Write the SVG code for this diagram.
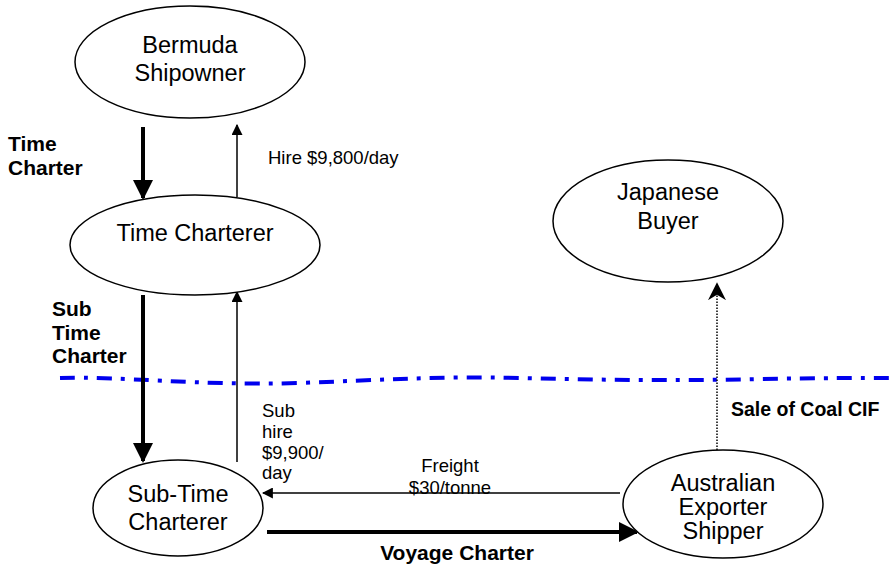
<svg xmlns="http://www.w3.org/2000/svg" width="891" height="565" viewBox="0 0 891 565">
<style>
.node{fill:#fff;stroke:#000;stroke-width:1.5}
.nt{font-family:"Liberation Sans",Arial,sans-serif;font-size:23.5px;fill:#000;text-anchor:middle}
.lb{font-family:"Liberation Sans",Arial,sans-serif;font-size:21px;font-weight:bold;fill:#000}
.ls{font-family:"Liberation Sans",Arial,sans-serif;font-size:18.5px;fill:#000}
.thick{stroke:#000;stroke-width:4;fill:none}
.thin{stroke:#000;stroke-width:1.5;fill:none}
</style>
<defs>
<marker id="ah" viewBox="0 0 10 10" refX="9" refY="5" markerWidth="11" markerHeight="11" markerUnits="userSpaceOnUse" orient="auto"><path d="M0,0 L10,5 L0,10 Z" fill="#000"/></marker>
<marker id="ahk" viewBox="0 0 10 10" refX="9" refY="5" markerWidth="5" markerHeight="5" orient="auto"><path d="M0,0 L10,5 L0,10 Z" fill="#000"/></marker>
<marker id="ahv" viewBox="0 0 10 10" refX="9" refY="5" markerWidth="18" markerHeight="18" markerUnits="userSpaceOnUse" orient="auto"><path d="M0,0 L10,5 L0,10 L3,5 Z" fill="#000"/></marker>
</defs>
<rect width="891" height="565" fill="#fff"/>
<path d="M60,378 C120,376 200,386 300,383 C380,380 440,376 520,378 C600,380 680,381 760,379 C820,378 860,378 891,378" stroke="#0000ee" stroke-width="4" fill="none" stroke-dasharray="15,9,4,9"/>
<g id="connectors">
<line class="thick" x1="143" y1="127" x2="143" y2="198" marker-end="url(#ahk)"/>
<line class="thin" x1="237" y1="197" x2="237" y2="125" marker-end="url(#ah)"/>
<line class="thick" x1="143" y1="295" x2="143" y2="461" marker-end="url(#ahk)"/>
<line class="thin" x1="237" y1="462" x2="237" y2="292" marker-end="url(#ah)"/>
<line class="thin" x1="620" y1="493" x2="263" y2="493" marker-end="url(#ah)"/>
<line class="thick" x1="267" y1="532" x2="637" y2="532" marker-end="url(#ahk)"/>
<line stroke="#000" stroke-width="1.5" stroke-dasharray="1.5,1.5" x1="717" y1="450" x2="717" y2="284" marker-end="url(#ahv)"/>
</g>
<g id="bermuda"><ellipse class="node" cx="190" cy="62" rx="115" ry="56"/><text class="nt" x="190" y="53">Bermuda</text><text class="nt" x="190" y="81">Shipowner</text></g>
<g id="timecharterer"><ellipse class="node" cx="195" cy="245" rx="125" ry="50"/><text class="nt" x="195" y="241">Time Charterer</text></g>
<g id="subtime"><ellipse class="node" cx="178" cy="508" rx="85" ry="48"/><text class="nt" x="178" y="502">Sub-Time</text><text class="nt" x="178" y="530">Charterer</text></g>
<g id="japanese"><ellipse class="node" cx="668" cy="221" rx="115" ry="61"/><text class="nt" x="668" y="200">Japanese</text><text class="nt" x="668" y="229">Buyer</text></g>
<g id="australian"><ellipse class="node" cx="723" cy="504" rx="100" ry="54"/><text class="nt" x="723" y="491">Australian</text><text class="nt" x="723" y="515">Exporter</text><text class="nt" x="723" y="539">Shipper</text></g>
<g id="labels">
<text class="lb" x="8" y="151">Time</text><text class="lb" x="8" y="175">Charter</text>
<text class="ls" x="268" y="164">Hire $9,800/day</text>
<text class="lb" x="52" y="316">Sub</text><text class="lb" x="52" y="340">Time</text><text class="lb" x="52" y="363">Charter</text>
<text class="ls" x="262" y="417">Sub</text><text class="ls" x="262" y="438">hire</text><text class="ls" x="262" y="459">$9,900/</text><text class="ls" x="262" y="479">day</text>
<text class="lb" x="731" y="416" style="font-size:19.5px">Sale of Coal CIF</text>
<text class="ls" x="450" y="472" text-anchor="middle">Freight</text><text class="ls" x="450" y="494" text-anchor="middle">$30/tonne</text>
<text class="lb" x="457" y="560" text-anchor="middle">Voyage Charter</text>
</g>
</svg>
